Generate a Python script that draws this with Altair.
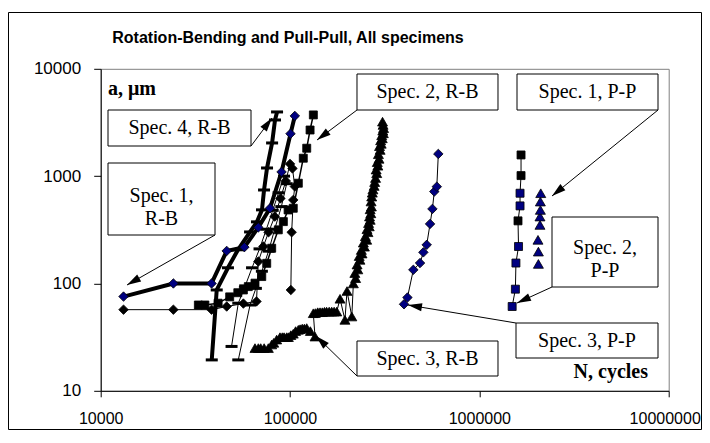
import math
import altair as alt
import pandas as pd

# ---------------- axis ticks / texts ----------------
X_TICKS = [10000, 100000, 1000000, 10000000]
Y_TICKS = [10, 100, 1000, 10000]
TITLE = "Rotation-Bending and Pull-Pull, All specimens"
Y_NAME = "a, \u03bcm"
X_NAME = "N, cycles"

# ---------------- data (N cycles, a in um) ----------------
# Spec. 1, R-B : blue diamonds, thick line
s1rb_n = [13200, 24200, 38500, 46300, 57400, 68000, 78400, 90200, 100600, 106000]
s1rb_a = [75.5, 100, 100, 201, 218, 333, 502, 1094, 2485, 3640]

# Spec. 4, R-B : dash markers, thick line
s4rb_n = [38600, 41000, 47000, 53100, 61500, 66900, 71100, 72900, 75600, 80400, 83300, 85400]
s4rb_a = [19.4, 87, 140, 206, 302, 375, 485, 743, 1191, 2037, 3336, 3963]

# Spec. 2, R-B : black squares
s2rb_n = [32800, 35500, 41700, 48000, 53000, 56700, 60200, 65300, 70900, 75300,
          80000, 86700, 92200, 97700, 104000, 110600, 117500, 122500, 127600, 132800]
s2rb_a = [63, 63, 65.5, 75, 82, 87, 93.5, 100.7, 116, 154,
          213, 316, 377, 484, 502, 859, 1469, 1820, 2690, 3717]

# Spec. 3, R-B : black triangles
s3rb_n = [65300, 68000, 70000, 73000, 76800, 80000, 82000, 85000, 88500, 91000,
          93000, 96000, 98000, 101000, 104000, 107000, 110600, 113000, 116000, 119000,
          122500, 128000, 135500, 132700, 136000, 140000, 144000, 148000, 152000, 156000,
          161000, 166000, 171000, 176500, 183700, 195000, 200000, 212000, 216000, 222000,
          220000, 228000, 226000, 234000, 232000, 240000, 238000, 247000, 244000, 254000,
          250000, 258000, 255000, 262000, 260000, 265000, 263000, 267000, 265000, 269000,
          268000, 270000, 272000, 274000, 278000, 280000, 283000, 287000, 285000, 291000,
          289000, 295000, 293000, 299000, 297000, 303000, 301000, 307000, 305000, 311000,
          309000, 312000, 310000, 308000]
s3rb_a = [25, 25, 25, 25, 25, 27, 28, 30, 31.6, 31.6,
          31.6, 31.6, 31.6, 33, 34, 36, 37, 37.5, 38, 38,
          38.4, 36, 32, 52.8, 53, 54, 54, 54, 54.5, 54.7,
          54.7, 54.7, 54.7, 54.7, 72, 45.8, 85, 49.2, 100, 112,
          125, 135, 150, 166, 180, 190, 205, 220, 240, 255,
          275, 300, 320, 340, 365, 391, 420, 450, 490, 520,
          580, 644, 700, 750, 810, 880, 960, 1064, 1150, 1250,
          1350, 1450, 1600, 1754, 1900, 2000, 2150, 2250, 2400, 2506,
          2650, 2800, 3000, 3215]

# other R-B curves inside the cluster
c1_n = [13200, 24200, 38500, 46300, 56700, 66500, 68000, 72300, 77000, 83000, 89000, 95000, 100000]
c1_a = [57, 57, 57, 61, 65, 68, 160, 221, 300, 420, 620, 900, 1300]
e_n = [101000, 102000, 104000, 106000, 103000]
e_a = [87, 300, 600, 800, 1180]
f_n = [49100, 53300, 58000, 63000, 69000, 75000, 81000, 87000, 93000]
f_a = [25.9, 65.5, 95, 140, 210, 320, 480, 700, 1000]
g_n = [53300, 61500, 66000, 71000, 77000, 83000, 90000, 96000]
g_a = [19.4, 63, 90, 130, 200, 320, 520, 850]

# Spec. 3, P-P : blue diamonds
s3pp_n = [400000, 417000, 448000, 486000, 506000, 527000, 549000, 565000, 578000, 596000, 607000]
s3pp_a = [64, 74, 134, 155, 195, 229, 359, 495, 718, 798, 1610]

# P-P squares (blue and black)
sq_n = [1490000, 1550000, 1560000, 1610000, 1600000, 1640000, 1640000, 1660000, 1660000]
sq_a = [61, 88.5, 155, 221, 383, 528, 693, 1012, 1575]
sq_c = ["blue", "blue", "blue", "blue", "black", "blue", "blue", "black", "black"]

# P-P blue triangles
tri_n = [2050000, 2050000, 2040000, 2090000, 2090000, 2100000, 2100000, 2110000]
tri_a = [152, 198, 255, 351, 420, 484, 579, 693]

# ---------------- styling ----------------
NAVY = "#000080"
W, H = 568, 322
OX, OY = 100.7, 68.8          # page position of the plot origin
SVG_W, SVG_H = 694, 422
SANS = "Liberation Sans, Arial, sans-serif"
SERIF = "Liberation Serif, Times New Roman, serif"

xs = alt.Scale(type="log", domain=[10000, 10000000], nice=False)
ys = alt.Scale(type="log", domain=[10, 10000], nice=False)
XA = alt.Axis(values=X_TICKS, format="d", title=None, grid=False, tickSize=6, labelPadding=14,
              labelFontSize=16, labelFont=SANS, labelFlush=False, labelOverlap=False,
              labelOffset={"condition": {"test": "datum.value >= 10000000", "value": -4}, "value": 0})
YA = alt.Axis(values=Y_TICKS, format="d", title=None, grid=False, tickSize=7, labelPadding=13,
              labelFontSize=17, labelFont=SANS, labelOverlap=False, labelFlush=False)
X = alt.X("n:Q", scale=xs, axis=XA)
Y = alt.Y("a:Q", scale=ys, axis=YA)

layers = []

# outer chart frame
dummy = pd.DataFrame({"k": [0]})
layers.append(alt.Chart(dummy).mark_rect(fill="white", fillOpacity=0, stroke="black", strokeWidth=1).encode(
    x=alt.value(8.5 - OX), x2=alt.value(701.5 - OX), y=alt.value(12.5 - OY), y2=alt.value(429.5 - OY)))


def series(n, a, shape, size, fill, lw, sw=0.8, fills=None, dash=False):
    df = pd.DataFrame({"n": n, "a": a, "i": list(range(len(n)))})
    out = []
    if lw:
        out.append(alt.Chart(df).mark_line(color="black", strokeWidth=lw, strokeJoin="round").encode(
            x=X, y=Y, order="i:Q"))
    if dash:
        out.append(alt.Chart(df).mark_point(shape="stroke", size=size, filled=False, stroke="black",
                                            strokeWidth=3, opacity=1).encode(x=X, y=Y))
    elif fills is not None:
        df["f"] = [NAVY if c == "blue" else "black" for c in fills]
        out.append(alt.Chart(df).mark_point(shape=shape, size=size, filled=True, stroke="black",
                                            strokeWidth=sw, opacity=1).encode(
            x=X, y=Y, fill=alt.Fill("f:N", scale=None)))
    else:
        out.append(alt.Chart(df).mark_point(shape=shape, size=size, filled=True, fill=fill, stroke="black",
                                            strokeWidth=sw, opacity=1).encode(x=X, y=Y))
    return out


layers += series(c1_n, c1_a, "diamond", 90, "black", 1)
layers += series(e_n, e_a, "diamond", 90, "black", 1)
layers += series(f_n, f_a, "stroke", 144, "black", 1, dash=True)
layers += series(g_n, g_a, "stroke", 144, "black", 1, dash=True)
layers += series(s2rb_n, s2rb_a, "square", 64, "black", 1.5)
layers += series(s4rb_n, s4rb_a, "stroke", 144, "black", 4, dash=True)
layers += series(s1rb_n, s1rb_a, "diamond", 90, NAVY, 4)
layers += series(s3rb_n, s3rb_a, "triangle-up", 100, "black", 1)
layers += series(s3pp_n, s3pp_a, "diamond", 90, NAVY, 1)
layers += series(sq_n, sq_a, "square", 64, NAVY, 1, fills=sq_c)
layers += series(tri_n, tri_a, "triangle-up", 100, NAVY, 0)

# ---------------- annotations (page pixels) ----------------
boxes = [
    (108, 110, 251, 146, ["Spec. 4, R-B"], 128),
    (108, 163, 215, 235, ["Spec. 1,", "R-B"], 196),
    (357, 74, 498, 110, ["Spec. 2, R-B"], 92),
    (517, 74, 658, 110, ["Spec. 1, P-P"], 92),
    (552, 217, 658, 287, ["Spec. 2,", "P-P"], 248),
    (516, 323, 658, 358, ["Spec. 3, P-P"], 340.5),
    (357, 341, 498, 376, ["Spec. 3, R-B"], 358.5),
]
arrows = [
    (251, 146, 272, 118),
    (215, 235, 127, 285),
    (357, 110, 317, 140),
    (658, 110, 552, 196),
    (552, 287, 517, 303),
    (516, 323, 408, 305),
    (357, 376, 316, 336),
]
ARROW = "M0,0L0.57,2L-0.57,2Z"

for (sx, sy, tx, ty) in arrows:
    layers.append(alt.Chart(dummy).mark_rule(color="black", strokeWidth=1).encode(
        x=alt.value(sx - OX), y=alt.value(sy - OY), x2=alt.value(tx - OX), y2=alt.value(ty - OY)))
    ang = math.degrees(math.atan2(tx - sx, -(ty - sy))) % 360
    layers.append(alt.Chart(dummy).mark_point(shape=ARROW, size=196, filled=True, color="black",
                                              opacity=1, angle=ang, strokeWidth=0).encode(
        x=alt.value(tx - OX), y=alt.value(ty - OY)))

for (x0, y0, x1, y1, txt, cy) in boxes:
    layers.append(alt.Chart(dummy).mark_rect(fill="white", stroke="black", strokeWidth=1).encode(
        x=alt.value(x0 - OX), x2=alt.value(x1 - OX), y=alt.value(y0 - OY), y2=alt.value(y1 - OY)))
    t = txt[0] if len(txt) == 1 else txt
    layers.append(alt.Chart(dummy).mark_text(font=SERIF, fontSize=20, color="black", align="center",
                                             baseline="middle", lineHeight=23).encode(
        x=alt.value((x0 + x1) / 2 - OX), y=alt.value(cy - OY), text=alt.value(t)))

# title and axis names
layers.append(alt.Chart(dummy).mark_text(font=SANS, fontSize=16, fontWeight="bold", color="black",
                                         align="center", baseline="middle").encode(
    x=alt.value(288 - OX), y=alt.value(38 - OY), text=alt.value(TITLE)))
layers.append(alt.Chart(dummy).mark_text(font=SERIF, fontSize=20, fontWeight="bold", color="black",
                                         align="left", baseline="alphabetic").encode(
    x=alt.value(108 - OX), y=alt.value(95 - OY), text=alt.value(Y_NAME)))
layers.append(alt.Chart(dummy).mark_text(font=SERIF, fontSize=20, fontWeight="bold", color="black",
                                         align="right", baseline="alphabetic").encode(
    x=alt.value(648 - OX), y=alt.value(378 - OY), text=alt.value(X_NAME)))

chart = alt.layer(*layers).properties(
    width=W, height=H,
    autosize=alt.AutoSizeParams(type="none"),
    padding={"left": OX - 8, "top": OY - 8, "right": SVG_W - (OX - 8) - W,
             "bottom": SVG_H - (OY - 8) - H},
).configure_view(stroke="#808080", strokeWidth=1).configure_axis(
    domainColor="black", tickColor="black", labelColor="black", domainWidth=1, tickWidth=1)

chart.save("out.html", embed_options={"renderer": "svg", "actions": False})
